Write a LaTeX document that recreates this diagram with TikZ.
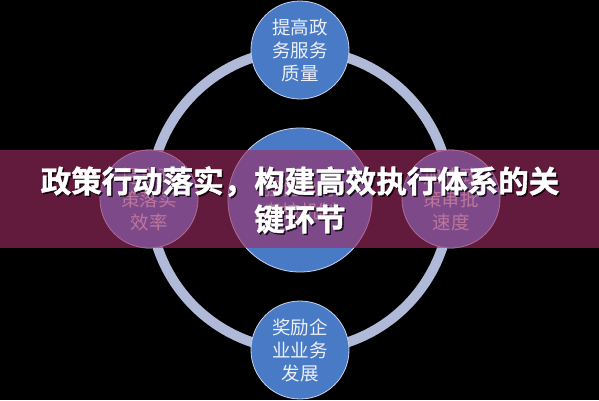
\documentclass[tikz,border=0pt]{standalone}
\usepackage{fontspec}
\newfontfamily\cjk[BoldFont={Noto Sans CJK SC Bold},BoldFeatures={FakeBold=1.3}]{Noto Sans CJK SC}
\definecolor{ringc}{RGB}{176,186,216}
\definecolor{nodeblue}{RGB}{72,122,198}
\definecolor{nodeedge}{RGB}{200,210,235}
\definecolor{nodetext}{RGB}{236,240,248}
\definecolor{bannerc}{RGB}{160,44,100}
\begin{document}
\begin{tikzpicture}[x=1pt,y=-1pt,
  ring/.style={draw=ringc,line width=10pt},
  bubble/.style={circle,fill=nodeblue,draw=nodeedge,line width=0.8pt,minimum size=98pt,inner sep=0pt,
    align=center,text=nodetext,font=\cjk\fontsize{18.5}{23}\selectfont},
  hub/.style={bubble,minimum size=144pt},
  banner/.style={fill=bannerc,fill opacity=0.62},
  titletext/.style={align=center,text=white,font=\cjk\bfseries\fontsize{30.5}{38}\selectfont,inner sep=0pt},
  titleshadow/.style={titletext,text=black,text opacity=0.75}]
\useasboundingbox (0,0) rectangle (599,400);
\fill[black] (0,0) rectangle (599,400);
\coordinate (c) at (300,200);
\draw[ring] (c) circle[radius=150pt];
\node[hub] (hub) at (300,200) {强化执行\\考核机制};
\node[bubble] (top) at (300,50) {提高政\\务服务\\质量};
\node[bubble] (bottom) at (300,350) {奖励企\\业业务\\发展};
\node[bubble] (left) at (149,199) {提高政\\策落实\\效率};
\node[bubble] (right) at (451,199) {加快政\\策审批\\速度};
\fill[banner] (0,150) rectangle (599,248);
\node[titleshadow] (tshadow) at (301.5,201.5) {政策行动落实，构建高效执行体系的关\\键环节};
\node[titletext] (title) at (300,200) {政策行动落实，构建高效执行体系的关\\键环节};
\end{tikzpicture}
\end{document}
